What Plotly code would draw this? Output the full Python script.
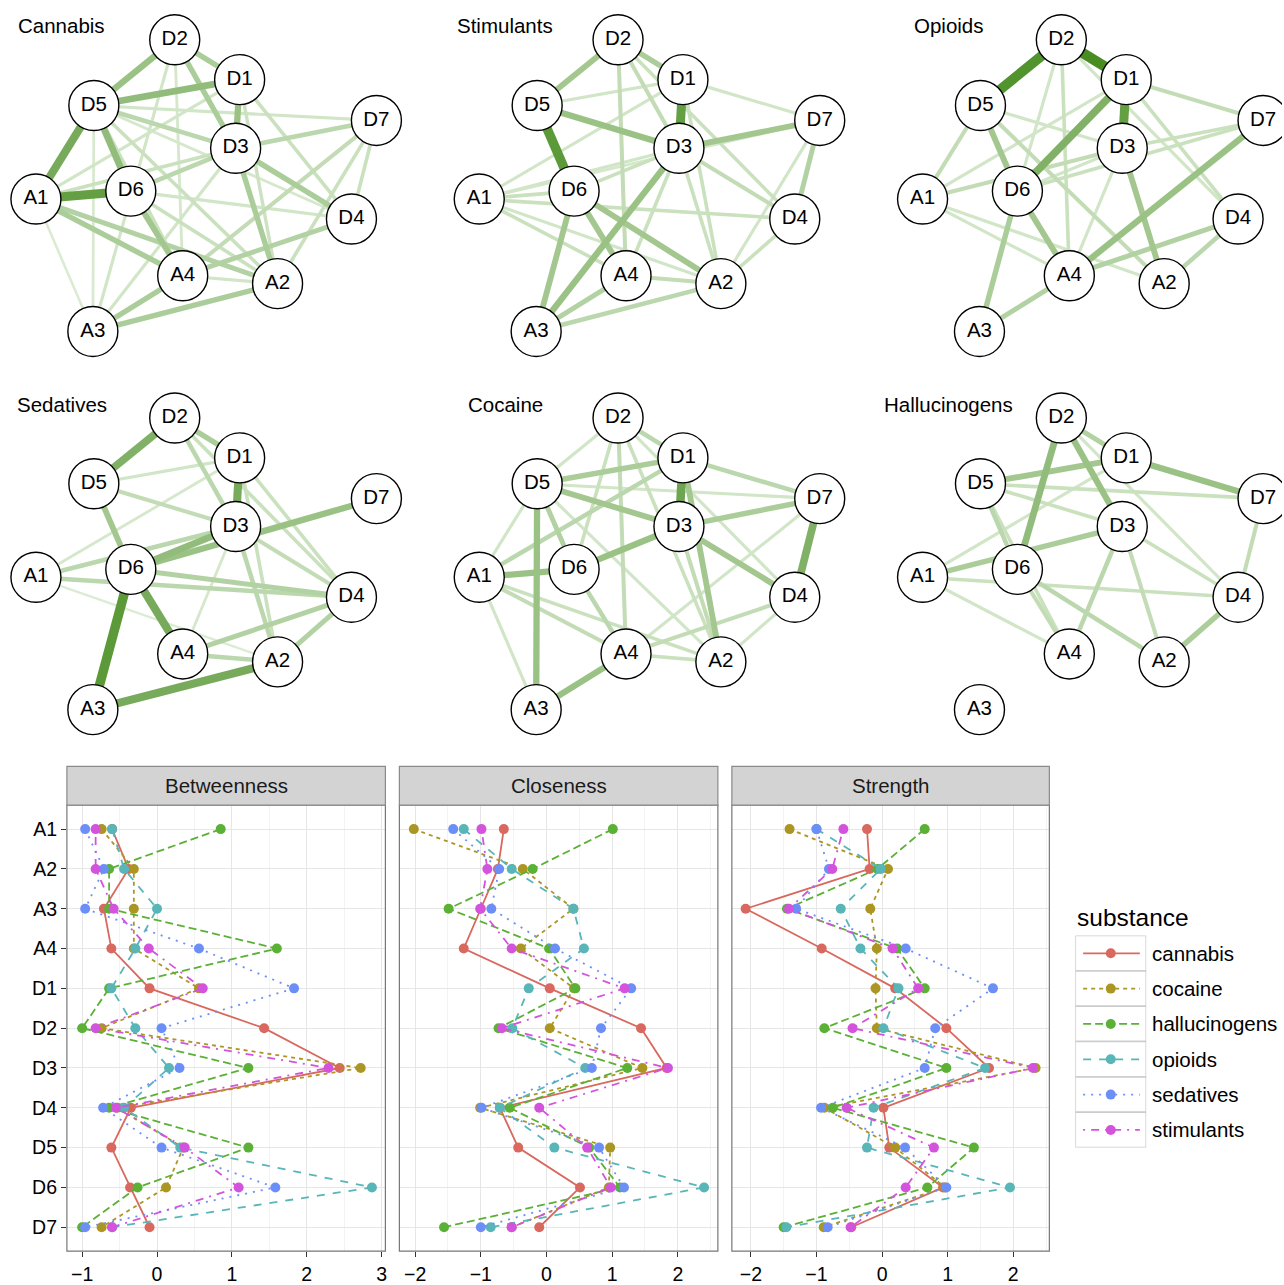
import plotly.graph_objects as go

W, H = 1284, 1285
FONT = "Liberation Sans, Arial, Helvetica, sans-serif"
VS = 1.0      # vertical pixel scale
VOFF = 0.0    # vertical pixel offset

# ---------------- network data ----------------
nodes = ["A1", "A2", "A3", "A4", "D1", "D2", "D3", "D4", "D5", "D6", "D7"]
# shared spring-layout coordinates (pixels inside one network panel)
node_x = [36, 278, 93, 183, 240, 175, 236, 352, 94, 131, 377]
node_y = [200, 285, 333, 277, 80, 40, 149, 220, 106, 192, 121]

network_titles = ["Cannabis", "Stimulants", "Opioids", "Sedatives", "Cocaine", "Hallucinogens"]

edges_cannabis = [
    ("A1", "D6", 0.80), ("A1", "D5", 0.70), ("D5", "D1", 0.55), ("D5", "D2", 0.50),
    ("D5", "D6", 0.55), ("D1", "D3", 0.50), ("D2", "D1", 0.40), ("D2", "D3", 0.40),
    ("D6", "A4", 0.45), ("A1", "A4", 0.40), ("A1", "A2", 0.35), ("A3", "A4", 0.40),
    ("A3", "A2", 0.40), ("A4", "D4", 0.35), ("D3", "D4", 0.40), ("D3", "A2", 0.40),
    ("D5", "D3", 0.30), ("D6", "D3", 0.30), ("D3", "D7", 0.30), ("D7", "A4", 0.25),
    ("D7", "A2", 0.20), ("D7", "D4", 0.20), ("D7", "D5", 0.15), ("D1", "D4", 0.20),
    ("D1", "A2", 0.18), ("D2", "A3", 0.15), ("D2", "A4", 0.12), ("D5", "A2", 0.20),
    ("D5", "D4", 0.12), ("A1", "D3", 0.20), ("A1", "D1", 0.15), ("D6", "D4", 0.15),
    ("D6", "A2", 0.20), ("A3", "D3", 0.15), ("A3", "D5", 0.10), ("A3", "A1", 0.08),
    ("A4", "A2", 0.15), ("D5", "A4", 0.20),
]
edges_stimulants = [
    ("D5", "D6", 0.85), ("D1", "D3", 0.80), ("D5", "D3", 0.50), ("D2", "D5", 0.45),
    ("D2", "D1", 0.40), ("D3", "D7", 0.45), ("D3", "A3", 0.50), ("D6", "A3", 0.45),
    ("D6", "A4", 0.45), ("D6", "A2", 0.45), ("A3", "A4", 0.35), ("A3", "A2", 0.30),
    ("A4", "A2", 0.25), ("D7", "D4", 0.35), ("D4", "A2", 0.20), ("D7", "A2", 0.15),
    ("D3", "D4", 0.25), ("D2", "A4", 0.25), ("D2", "D3", 0.25), ("D2", "D4", 0.20),
    ("D1", "D7", 0.15), ("D1", "D5", 0.15), ("D1", "A1", 0.15), ("D1", "A2", 0.20),
    ("A1", "D6", 0.20), ("A1", "D4", 0.20), ("A1", "A4", 0.20), ("A1", "A2", 0.15),
    ("A1", "D3", 0.15), ("A1", "D7", 0.12), ("D6", "D3", 0.20), ("D3", "A4", 0.20),
    ("D3", "A2", 0.20),
]
edges_opioids = [
    ("D2", "D5", 0.90), ("D2", "D1", 0.95), ("D1", "D3", 0.80), ("D1", "D6", 0.65),
    ("D7", "A4", 0.50), ("D3", "A2", 0.45), ("D5", "D6", 0.45), ("D6", "A4", 0.45),
    ("D6", "A3", 0.40), ("A3", "A4", 0.35), ("A4", "D4", 0.35), ("D4", "A2", 0.30),
    ("A1", "D5", 0.25), ("A1", "D3", 0.25), ("D1", "D7", 0.25), ("D3", "D7", 0.20),
    ("D6", "D7", 0.20), ("D5", "A2", 0.25), ("D1", "D4", 0.20), ("D2", "A4", 0.20),
    ("D2", "D6", 0.15), ("D2", "D4", 0.15), ("D1", "A1", 0.15), ("A1", "A4", 0.15),
    ("A1", "A2", 0.15), ("D3", "A4", 0.15), ("D5", "D3", 0.15), ("D6", "D3", 0.15),
]
edges_sedatives = [
    ("D6", "A3", 0.85), ("A3", "A2", 0.70), ("D6", "A4", 0.70), ("D2", "D5", 0.65),
    ("D1", "D3", 0.70), ("D6", "D3", 0.55), ("D6", "D7", 0.50), ("D5", "D6", 0.45),
    ("D2", "D1", 0.40), ("D6", "D4", 0.35), ("A1", "D4", 0.30), ("A4", "D4", 0.35),
    ("A2", "D4", 0.35), ("A4", "A2", 0.30), ("D5", "D3", 0.25), ("D2", "D3", 0.30),
    ("D3", "A2", 0.30), ("D3", "D4", 0.25), ("D1", "D4", 0.20), ("D1", "A2", 0.20),
    ("D2", "D4", 0.20), ("D5", "D1", 0.15), ("A1", "D1", 0.12), ("A1", "A2", 0.06),
    ("D3", "A4", 0.12), ("A1", "D3", 0.30),
]
edges_cocaine = [
    ("D1", "D3", 0.75), ("D7", "D4", 0.65), ("D5", "A3", 0.50), ("A3", "A4", 0.50),
    ("D6", "D3", 0.50), ("A1", "D6", 0.50), ("D5", "D3", 0.45), ("D5", "D1", 0.40),
    ("D3", "D4", 0.45), ("D3", "D7", 0.40), ("D1", "A2", 0.45), ("D1", "D7", 0.30),
    ("D5", "D6", 0.35), ("D6", "A4", 0.30), ("A1", "D1", 0.30), ("D2", "D1", 0.30),
    ("D2", "A4", 0.25), ("D2", "D5", 0.15), ("D2", "D6", 0.20), ("A1", "A4", 0.25),
    ("A1", "A2", 0.20), ("A1", "A3", 0.15), ("A1", "D5", 0.15), ("A4", "D4", 0.25),
    ("A4", "A2", 0.20), ("A2", "D4", 0.15), ("A4", "D7", 0.15), ("D2", "A2", 0.20),
    ("D5", "D7", 0.15), ("D5", "A2", 0.15), ("D2", "D4", 0.15), ("D3", "A2", 0.25),
]
edges_hallucinogens = [
    ("D2", "D6", 0.55), ("D2", "D3", 0.50), ("D1", "D7", 0.50), ("D5", "D1", 0.45),
    ("A1", "D3", 0.40), ("D2", "D1", 0.35), ("A2", "D4", 0.40), ("D7", "D4", 0.25),
    ("D5", "D6", 0.30), ("D6", "A4", 0.25), ("D6", "A2", 0.30), ("D3", "A4", 0.30),
    ("D3", "A2", 0.25), ("D3", "D4", 0.20), ("D5", "A4", 0.20), ("A1", "D4", 0.20),
    ("A1", "A4", 0.15), ("D2", "D4", 0.15), ("D5", "D7", 0.20), ("A1", "D1", 0.15),
    ("D5", "D3", 0.20),
]
network_edges = [edges_cannabis, edges_stimulants, edges_opioids,
                 edges_sedatives, edges_cocaine, edges_hallucinogens]

# ---------------- centrality data ----------------
node_order = ["A1", "A2", "A3", "A4", "D1", "D2", "D3", "D4", "D5", "D6", "D7"]
substances = ["cannabis", "cocaine", "hallucinogens", "opioids", "sedatives", "stimulants"]
measures = ["Betweenness", "Closeness", "Strength"]

betweenness = {
    "cannabis":      [-0.60, -0.38, -0.71, -0.61, -0.10, 1.43, 2.44, -0.35, -0.61, -0.36, -0.10],
    "cocaine":       [-0.74, -0.31, -0.31, -0.31, 0.56, -0.74, 2.72, -0.53, 0.35, 0.12, -0.74],
    "hallucinogens": [0.85, -0.64, -0.64, 1.60, -0.64, -1.00, 1.22, -0.64, 1.22, -0.26, -1.00],
    "opioids":       [-0.60, -0.44, 0.00, -0.29, -0.61, -0.29, 0.16, -0.44, 0.31, 2.87, -0.60],
    "sedatives":     [-0.96, -0.71, -0.96, 0.56, 1.83, 0.06, 0.30, -0.72, 0.06, 1.58, -0.96],
    "stimulants":    [-0.82, -0.82, -0.58, -0.11, 0.61, -0.82, 2.29, -0.55, 0.37, 1.09, -0.60],
}
closeness = {
    "cannabis":      [-0.65, -0.74, -1.00, -1.26, 0.05, 1.44, 1.83, -0.71, -0.43, 0.51, -0.11],
    "cocaine":       [-2.02, -0.36, 0.41, -0.39, 0.42, 0.05, 1.46, -1.01, 0.97, 0.95, -0.53],
    "hallucinogens": [1.01, -0.21, -1.49, 0.04, 0.44, -0.73, 1.23, -0.56, 0.65, 1.12, -1.56],
    "opioids":       [-1.26, -0.53, 0.41, 0.57, -0.27, -0.52, 0.59, -0.71, 0.12, 2.40, -0.85],
    "sedatives":     [-1.42, -0.72, -0.84, 0.13, 1.29, 0.83, 0.69, -0.99, 0.80, 1.18, -1.00],
    "stimulants":    [-0.99, -0.90, -1.01, -0.53, 1.19, -0.68, 1.85, -0.11, 0.62, 0.98, -0.53],
}
strength = {
    "cannabis":      [-0.23, -0.19, -2.08, -0.92, 0.20, 0.98, 1.63, 0.02, 0.11, 0.93, -0.47],
    "cocaine":       [-1.41, 0.09, -0.18, -0.08, -0.10, -0.08, 2.34, -0.88, 0.20, 0.96, -0.89],
    "hallucinogens": [0.65, -0.07, -1.45, 0.23, 0.65, -0.88, 0.98, -0.75, 1.40, 0.69, -1.50],
    "opioids":       [-1.00, -0.02, -0.63, -0.33, 0.25, 0.02, 1.57, -0.13, -0.23, 1.95, -1.46],
    "sedatives":     [-1.00, -0.81, -1.31, 0.36, 1.69, 0.81, 0.65, -0.93, 0.35, 0.98, -0.83],
    "stimulants":    [-0.59, -0.76, -1.42, 0.16, 0.55, -0.45, 2.30, -0.54, 0.79, 0.36, -0.48],
}
measure_data = [betweenness, closeness, strength]
x_ticks = [[-1, 0, 1, 2, 3], [-2, -1, 0, 1, 2], [-2, -1, 0, 1, 2]]

# ---------------- styles ----------------
sub_colors = {"cannabis": "#D9695E", "cocaine": "#AC9623", "hallucinogens": "#5BB036",
              "opioids": "#58B5B8", "sedatives": "#6C8FF7", "stimulants": "#D453DC"}
sub_dash = {"cannabis": "solid", "cocaine": "4px,4px", "hallucinogens": "8px,4px",
            "opioids": "8px,8px", "sedatives": "2px,6px", "stimulants": "2px,6px,8px,6px"}

PANEL_DX, PANEL_DY = 444, 380
NET_H = 760          # height (px) of the network area
NODE_D = 50          # node diameter px
FS = 20.5            # main text size


def py(pix):
    """pixel row (from top) -> paper y"""
    return 1 - (pix * VS + VOFF) / H


fig = go.Figure()


def edge_style(w):
    light = (226, 240, 219)
    dark = (62, 134, 22)
    t = min(1.0, w) ** 1.2
    c = tuple(int(round(l + (d - l) * t)) for l, d in zip(light, dark))
    return "rgb(%d,%d,%d)" % c, 1.8 + 9.0 * w


idx = {n: i for i, n in enumerate(nodes)}
annotations = []
for k, (title, edges) in enumerate(zip(network_titles, network_edges)):
    dx = (k % 3) * PANEL_DX
    dy = (k // 3) * PANEL_DY
    for a, b, w in sorted(edges, key=lambda e: e[2]):
        col, lw = edge_style(w)
        fig.add_trace(go.Scatter(
            x=[node_x[idx[a]] + dx, node_x[idx[b]] + dx],
            y=[node_y[idx[a]] + dy, node_y[idx[b]] + dy],
            mode="lines", line=dict(color=col, width=lw),
            hoverinfo="skip", showlegend=False, xaxis="x", yaxis="y"))
    fig.add_trace(go.Scatter(
        x=[v + dx for v in node_x], y=[v + dy for v in node_y],
        mode="markers+text", text=nodes, textposition="middle center",
        textfont=dict(size=FS, color="black", family=FONT),
        marker=dict(size=NODE_D, color="white", line=dict(color="black", width=1.4)),
        hoverinfo="text", showlegend=False, xaxis="x", yaxis="y"))
    annotations.append(dict(x=62 + dx, y=26 + dy, xref="x", yref="y", text=title,
                            showarrow=False, font=dict(size=FS, color="black", family=FONT),
                            xanchor="center", yanchor="middle"))

# ---------------- centrality facets ----------------
panel_px = [(67, 386), (400, 719), (733, 1051)]
plot_top, plot_bot, strip_top = 809, 1257, 770
x_ranges = [[-1.204, 3.05], [-2.24, 2.61], [-2.29, 2.55]]

shapes = []
for m, (mname, data) in enumerate(zip(measures, measure_data)):
    ax = m + 2
    for s in substances:
        fig.add_trace(go.Scatter(
            x=data[s], y=node_order, mode="lines+markers", name=s,
            legendgroup=s, showlegend=False,
            line=dict(color=sub_colors[s], width=1.8, dash=sub_dash[s]),
            marker=dict(color=sub_colors[s], size=10),
            xaxis="x%d" % ax, yaxis="y%d" % ax))
    x0, x1 = panel_px[m]
    dom_x = [x0 / W, x1 / W]
    dom_y = [py(plot_bot), py(plot_top)]
    fig.layout["xaxis%d" % ax] = dict(
        domain=dom_x, anchor="y%d" % ax, range=x_ranges[m],
        tickvals=x_ticks[m], ticktext=["\u2212%d" % -v if v < 0 else str(v) for v in x_ticks[m]],
        showgrid=True, gridcolor="#E6E6E6", gridwidth=1.2,
        minor=dict(dtick=0.5, showgrid=True, gridcolor="#F3F3F3", gridwidth=0.8),
        zeroline=False, ticks="outside", ticklen=5, tickcolor="#333333", tickwidth=1.2,
        tickfont=dict(size=19.5, color="black", family=FONT), showline=False, fixedrange=True)
    fig.layout["yaxis%d" % ax] = dict(
        domain=dom_y, anchor="x%d" % ax, type="category", categoryarray=node_order,
        categoryorder="array", range=[10.6, -0.6],
        showgrid=True, gridcolor="#E6E6E6", gridwidth=1.2, zeroline=False,
        ticks="outside" if m == 0 else "", ticklen=5, tickcolor="#333333", tickwidth=1.2,
        showticklabels=(m == 0), tickfont=dict(size=19.5, color="black", family=FONT),
        showline=False, fixedrange=True)
    shapes.append(dict(type="rect", xref="paper", yref="paper",
                       x0=dom_x[0], x1=dom_x[1], y0=dom_y[0], y1=dom_y[1],
                       line=dict(color="#777777", width=1.2), layer="above"))
    shapes.append(dict(type="rect", xref="paper", yref="paper",
                       x0=dom_x[0], x1=dom_x[1], y0=py(plot_top), y1=py(strip_top),
                       fillcolor="#D3D3D3", line=dict(color="#8a8a8a", width=1.2), layer="above"))
    annotations.append(dict(x=(dom_x[0] + dom_x[1]) / 2, y=py((plot_top + strip_top) / 2),
                            xref="paper", yref="paper", text=mname, showarrow=False,
                            font=dict(size=FS, color="#1a1a1a", family=FONT),
                            xanchor="center", yanchor="middle"))

# ---------------- legend (ggplot-style keys) ----------------
leg_x0, leg_x1 = 1077, 1148
leg_top, leg_step = 940, 35.5
n_sub = len(substances)
fig.layout["xaxis5"] = dict(domain=[leg_x0 / W, leg_x1 / W], anchor="y5", range=[0, 1],
                            visible=False, fixedrange=True)
fig.layout["yaxis5"] = dict(domain=[py(leg_top + leg_step * n_sub), py(leg_top)], anchor="x5",
                            range=[n_sub - 0.5, -0.5], visible=False, fixedrange=True)
for i, s in enumerate(substances):
    shapes.append(dict(type="rect", xref="x5", yref="y5", x0=0, x1=1, y0=i - 0.5, y1=i + 0.5,
                       line=dict(color="#CCCCCC", width=1.5), fillcolor="white", layer="below"))
    fig.add_trace(go.Scatter(
        x=[0.11, 0.91], y=[i, i], mode="lines",
        line=dict(color=sub_colors[s], width=1.8, dash=sub_dash[s]),
        hoverinfo="skip", showlegend=False, xaxis="x5", yaxis="y5"))
    fig.add_trace(go.Scatter(
        x=[0.5], y=[i], mode="markers",
        marker=dict(color=sub_colors[s], size=10, opacity=1),
        hoverinfo="skip", showlegend=False, xaxis="x5", yaxis="y5"))
    annotations.append(dict(x=1152 / W, y=py(leg_top + leg_step * (i + 0.5)), xref="paper",
                            yref="paper", text=s, showarrow=False, xanchor="left",
                            yanchor="middle", font=dict(size=FS, color="black", family=FONT)))
annotations.append(dict(x=1077 / W, y=py(922), xref="paper", yref="paper", text="substance",
                        showarrow=False, xanchor="left", yanchor="middle",
                        font=dict(size=24.5, color="black", family=FONT)))

fig.update_layout(
    width=W, height=H, margin=dict(l=0, r=0, t=0, b=0),
    paper_bgcolor="white", plot_bgcolor="white",
    font=dict(family=FONT, color="black"),
    xaxis=dict(domain=[0, 1], range=[0, W], visible=False, fixedrange=True),
    yaxis=dict(domain=[py(NET_H), py(0)], range=[NET_H, 0],
               visible=False, fixedrange=True),
    shapes=shapes, annotations=annotations,
    showlegend=False,
)

fig.write_html("out.html", config={"displayModeBar": False},
               post_script="document.body.style.margin='0';document.body.style.overflow='hidden';")
